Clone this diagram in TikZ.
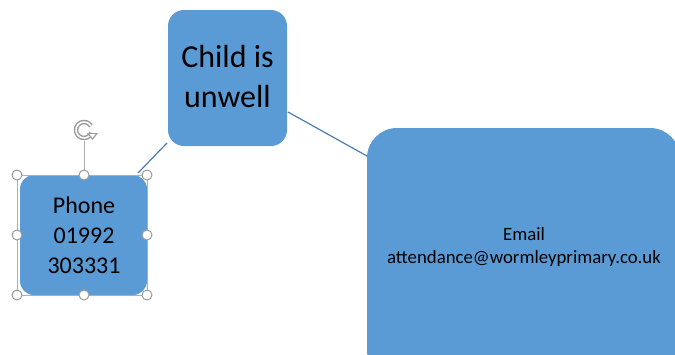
\documentclass[tikz,border=0pt]{standalone}
\usepackage{fontspec}
\setmainfont{Carlito}
\usetikzlibrary{arrows.meta}
\definecolor{boxblue}{HTML}{5B9BD5}
\definecolor{linkblue}{HTML}{4A7EB0}
\definecolor{handlegray}{HTML}{9A9A9A}
\tikzset{
  card/.style={fill=boxblue, draw=none, rounded corners=#1},
  card/.default=16pt,
  link/.style={draw=linkblue, line width=1.2pt},
  handle/.style={circle, draw=handlegray, fill=white, line width=1pt, minimum size=10pt, inner sep=0pt},
  frame/.style={draw=handlegray!80, line width=0.9pt}
}
\begin{document}
\begin{tikzpicture}[x=1pt,y=-1pt]
\useasboundingbox (0,0) rectangle (675,354);
\begin{scope}
\clip (0,0) rectangle (675,354);
% boxes
\path[card] (168,10) rectangle (287,146);
\node[inner sep=0pt, align=center, font=\fontsize{32}{40}\selectfont] (child) at (227.5,77) {Child is\\unwell};
\path[card=30pt] (367,128) rectangle (680,380);
\node[inner sep=0pt, align=center, font=\fontsize{18.8}{23}\selectfont] (email) at (524,247) {Email\\attendance@wormleyprimary.co.uk};
\path[card=14pt] (20,175) rectangle (147,295);
\node[inner sep=0pt, align=center, font=\fontsize{24}{30}\selectfont] (phone) at (84,235) {Phone\\01992\\303331};
% named anchor points
\coordinate (c1) at (167,143);
\coordinate (p1) at (138,173);
\coordinate (c2) at (288,112);
\coordinate (e1) at (367,156);
\draw[link] (c1) -- (p1);
\draw[link] (c2) -- (e1);
% selection frame
\coordinate (rot) at (84,130);
\draw[frame] (17,175) rectangle (147,295);
\draw[frame] (84,141) -- (84,175);
\draw[handlegray, line width=4.5pt] ([shift={(20:8)}]rot) arc[start angle=20, end angle=330, radius=8];
\draw[white, line width=1.6pt] ([shift={(20:8)}]rot) arc[start angle=20, end angle=330, radius=8];
\fill[handlegray] (87,133) -- (98,133) -- (92.5,140) -- cycle;
\fill[white] (89.5,134.2) -- (95.5,134.2) -- (92.5,137.8) -- cycle;
\node[handle] (h1) at (17,175) {};
\node[handle] (h2) at (84,175) {};
\node[handle] (h3) at (147,175) {};
\node[handle] (h4) at (17,235) {};
\node[handle] (h5) at (147,235) {};
\node[handle] (h6) at (17,295) {};
\node[handle] (h7) at (84,295) {};
\node[handle] (h8) at (147,295) {};
\end{scope}
\end{tikzpicture}
\end{document}
